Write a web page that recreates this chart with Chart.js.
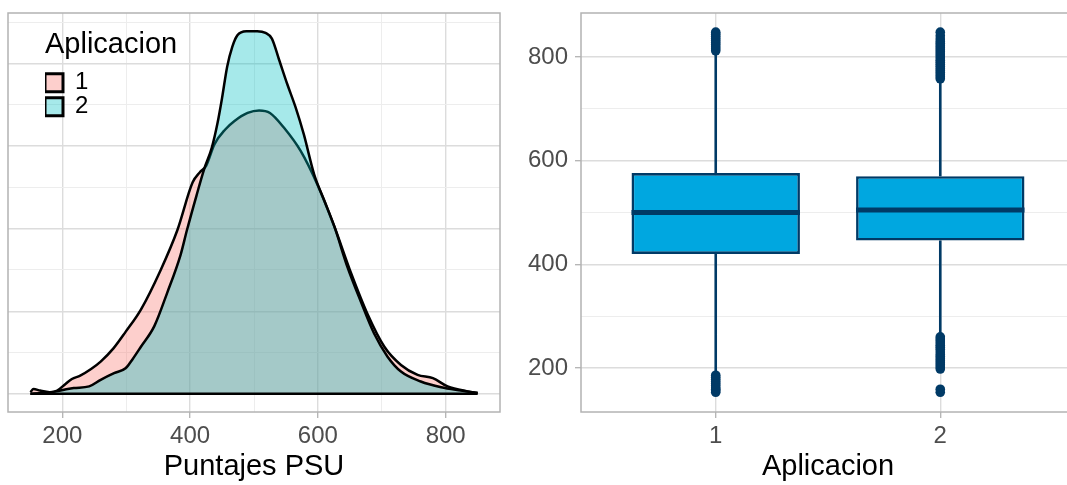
<!DOCTYPE html>
<html><head><meta charset="utf-8">
<script src="https://cdn.jsdelivr.net/npm/chart.js@4"></script>
<style>
html,body{margin:0;padding:0;background:#fff;overflow:hidden;width:1067px;height:485px;}
#left{position:absolute;left:0;top:0;width:520px;height:485px;}
#right{position:absolute;left:520px;top:0;width:560px;height:485px;}
</style></head><body>
<div id="left"><canvas id="c1"></canvas></div>
<div id="right"><canvas id="c2"></canvas></div>
<script>
// ---------- Data: density panel (Puntajes PSU by Aplicacion) ----------
const groupLabels = ['1', '2'];
const psu1  = [150,155,165,180,192,205,215,228,245,260,280,299,323,354,380,404,415,425,438,455,469,490,508,525,547,573,600,626,652,678,704,730,756,780,803,834,850];
const dens1 = [0.00002,0.00006,0.00004,0.00002,0.00004,0.00012,0.00018,0.00022,0.00030,0.00039,0.00055,0.00075,0.00102,0.00150,0.00198,0.00256,0.00268,0.00276,0.00302,0.00320,0.00330,0.00340,0.00343,0.00340,0.00322,0.00294,0.00252,0.00202,0.00146,0.00096,0.00057,0.00035,0.00023,0.00019,0.00009,0.00003,0.00001];
const psu2  = [150,170,190,203,218,242,260,281,299,310,323,344,364,385,395,410,422,434,443,450,458,466,474,488,505,518,528,539,552,565,578,594,610,626,646,667,688,709,730,761,793,824,850];
const dens2 = [0.00000,0.00001,0.00003,0.00005,0.00007,0.00009,0.00017,0.00025,0.00031,0.00042,0.00057,0.00082,0.00122,0.00168,0.00198,0.00240,0.00272,0.00298,0.00328,0.00358,0.00396,0.00420,0.00434,0.00439,0.00439,0.00437,0.00430,0.00405,0.00375,0.00347,0.00314,0.00266,0.00234,0.00202,0.00154,0.00112,0.00073,0.00045,0.00027,0.00015,0.00008,0.00004,0.00001];
const psuTicks = [200,300,400,500,600,700,800];
const psuTickLabels = [200,400,600,800];
const densTicks = [0,0.0005,0.001,0.0015,0.002,0.0025,0.003,0.0035,0.004,0.0045];

// ---------- Data: boxplot panel ----------
const boxCats = [1, 2];
const boxCatLabels = ['1', '2'];
const boxQ1  = [420, 446];
const boxMed = [500, 505];
const boxQ3  = [576, 570];
const whiskLo = [189, 264];
const whiskHi = [807, 752];
const outliers1 = [153,156,159,162,166,170,174,178,182,186, 812,816,820,824,828,832,836,840,844,848];
const outliers2 = [153,159, 198,202,206,210,214,218,222,226,231,236,240,244,248,252,256,260, 758,762,766,770,774,778,782,786,790,794,798,802,806,810,814,818,822,826,830,835,841,848];
const yTicks = [200,300,400,500,600,700,800];
const yTickLabels = [200,400,600,800];
const yLim = [115, 885];

// ---------- styles ----------
Chart.defaults.font.family = "'Liberation Sans', Arial, Helvetica, sans-serif";
Chart.defaults.animation = false;
const GRID_MAJOR = '#DCDCDC', GRID_MINOR = '#EDEDED', BORDER = '#B3B3B3', TICK_TXT = '#4D4D4D';
const NAVY = '#003A66', BOXFILL = '#00A7E0';

const panelBorder = {
  id: 'panelBorder',
  afterDraw(chart) {
    const a = chart.chartArea, ctx = chart.ctx;
    ctx.save();
    ctx.strokeStyle = BORDER; ctx.lineWidth = 1.5;
    ctx.strokeRect(a.left, a.top, a.right - a.left, a.bottom - a.top);
    ctx.restore();
  }
};
const legendPlace = {
  id: 'legendPlace',
  afterLayout(chart, args, opts) {
    const lg = chart.legend; if (!lg) return;
    const w = lg.right - lg.left, h = lg.bottom - lg.top;
    lg.left = opts.x; lg.top = opts.y; lg.right = opts.x + w; lg.bottom = opts.y + h;
  }
};

// ---------- left: densities ----------
const xr = [Math.min(...psu1, ...psu2), Math.max(...psu1, ...psu2)];
const xPad = 0.05 * (xr[1] - xr[0]);
const dMax = Math.max(...dens1, ...dens2);
const isMajX = v => psuTickLabels.includes(v);
const isMajD = v => Math.round(v * 10000) % 10 === 0;

new Chart(document.getElementById('c1'), {
  type: 'line',
  data: {
    datasets: [
      { label: groupLabels[0], data: psu1.map((x, i) => ({x, y: dens1[i]})),
        backgroundColor: 'rgba(248,118,109,0.35)', borderColor: '#000', borderWidth: 2.5,
        fill: 'origin', pointRadius: 0, cubicInterpolationMode: 'monotone', order: 2 },
      { label: groupLabels[1], data: psu2.map((x, i) => ({x, y: dens2[i]})),
        backgroundColor: 'rgba(0,191,196,0.35)', borderColor: '#000', borderWidth: 2.5,
        fill: 'origin', pointRadius: 0, cubicInterpolationMode: 'monotone', order: 1 },
      { label: '_base', data: [{x: xr[0], y: 0}, {x: xr[1], y: 0}],
        borderColor: '#000', borderWidth: 2.5, pointRadius: 0, fill: false, order: 0 }
    ]
  },
  plugins: [panelBorder, legendPlace],
  options: {
    responsive: true, maintainAspectRatio: false, events: [],
    layout: { padding: { left: 8, right: 20, top: 13, bottom: 0 } },
    scales: {
      x: {
        type: 'linear', min: xr[0] - xPad, max: xr[1] + xPad,
        afterBuildTicks: s => { s.ticks = psuTicks.map(v => ({value: v})); },
        afterFit: s => { s.height = 73; s.paddingLeft = 0; s.paddingRight = 0; },
        ticks: { autoSkip: false, maxRotation: 0, padding: 4, color: TICK_TXT, font: {size: 24},
                 callback: v => isMajX(v) ? String(v) : '' },
        grid: { color: c => isMajX(c.tick.value) ? GRID_MAJOR : GRID_MINOR,
                lineWidth: c => isMajX(c.tick.value) ? 1.4 : 1,
                tickLength: 6, tickWidth: 1.3,
                tickColor: c => isMajX(c.tick.value) ? BORDER : 'rgba(0,0,0,0)' },
        border: { display: false },
        title: { display: true, text: 'Puntajes PSU', color: '#000', font: {size: 29}, padding: {top: 0, bottom: 1} }
      },
      y: {
        type: 'linear', min: -0.05 * dMax, max: 1.05 * dMax,
        afterBuildTicks: s => { s.ticks = densTicks.map(v => ({value: v})); },
        afterFit: s => { s.width = 0; s.paddingTop = 0; s.paddingBottom = 0; },
        ticks: { display: false },
        grid: { color: c => isMajD(c.tick.value) ? GRID_MAJOR : GRID_MINOR,
                lineWidth: c => isMajD(c.tick.value) ? 1.4 : 1, drawTicks: false },
        border: { display: false }
      }
    },
    plugins: {
      tooltip: { enabled: false },
      legendPlace: { x: 45, y: 30 },
      legend: {
        position: 'chartArea', align: 'start',
        title: { display: true, text: 'Aplicacion', position: 'start', color: '#000', font: {size: 29}, padding: {top: 0, bottom: 6} },
        labels: {
          boxWidth: 18, boxHeight: 18, padding: 0, color: '#000', font: {size: 24},
          filter: item => item.text !== '_base',
          sort: (a, b) => a.text.localeCompare(b.text),
          generateLabels: chart => Chart.defaults.plugins.legend.labels.generateLabels(chart)
            .map(it => Object.assign(it, {lineWidth: 3, strokeStyle: '#000'}))
        }
      }
    }
  }
});

// ---------- right: boxplots ----------
const halfBox = 0.375;
const medianPts = [], whiskPts = [];
boxCats.forEach((c, i) => {
  medianPts.push({x: c - halfBox, y: boxMed[i]}, {x: c + halfBox, y: boxMed[i]}, {x: c, y: null});
  whiskPts.push({x: c, y: boxQ3[i]}, {x: c, y: whiskHi[i]}, {x: c, y: null},
                {x: c, y: boxQ1[i]}, {x: c, y: whiskLo[i]}, {x: c, y: null});
});
const outPts = outliers1.map(y => ({x: boxCats[0], y})).concat(outliers2.map(y => ({x: boxCats[1], y})));
const isMajY = v => yTickLabels.includes(v);

new Chart(document.getElementById('c2'), {
  type: 'bar',
  data: {
    datasets: [
      { type: 'line', label: 'mediana', data: medianPts, borderColor: NAVY, borderWidth: 5,
        borderCapStyle: 'butt', pointRadius: 0, spanGaps: false, fill: false },
      { type: 'bar', label: 'caja', data: boxCats.map((c, i) => ({x: c, y: [boxQ1[i], boxQ3[i]]})),
        backgroundColor: BOXFILL, borderColor: NAVY, borderWidth: 2.6, borderSkipped: false,
        categoryPercentage: 1, barPercentage: 0.75 },
      { type: 'line', label: 'bigotes', data: whiskPts, borderColor: NAVY, borderWidth: 2.6,
        pointRadius: 0, spanGaps: false, fill: false },
      { type: 'scatter', label: 'atipicos', data: outPts, backgroundColor: NAVY, borderWidth: 0,
        pointRadius: 4.8 }
    ]
  },
  plugins: [panelBorder],
  options: {
    responsive: true, maintainAspectRatio: false, events: [],
    layout: { padding: { left: 0, right: 5, top: 13, bottom: 0 } },
    scales: {
      x: {
        type: 'linear', min: 0.4, max: 2.6, offset: false,
        afterBuildTicks: s => { s.ticks = boxCats.map(v => ({value: v})); },
        afterFit: s => { s.height = 73; s.paddingLeft = 0; s.paddingRight = 0; },
        ticks: { autoSkip: false, maxRotation: 0, padding: 4, color: TICK_TXT, font: {size: 24},
                 callback: v => boxCatLabels[boxCats.indexOf(v)] },
        grid: { offset: false, color: GRID_MAJOR, lineWidth: 1.4, tickLength: 6, tickWidth: 1.3, tickColor: BORDER },
        border: { display: false },
        title: { display: true, text: 'Aplicacion', color: '#000', font: {size: 29}, padding: {top: 0, bottom: 1} }
      },
      y: {
        type: 'linear', min: yLim[0], max: yLim[1],
        afterBuildTicks: s => { s.ticks = yTicks.map(v => ({value: v})); },
        afterFit: s => { s.width = 61; s.paddingTop = 0; s.paddingBottom = 0; },
        ticks: { autoSkip: false, padding: 7, color: TICK_TXT, font: {size: 24},
                 callback: v => isMajY(v) ? String(v) : '' },
        grid: { color: c => isMajY(c.tick.value) ? GRID_MAJOR : GRID_MINOR,
                lineWidth: c => isMajY(c.tick.value) ? 1.4 : 1,
                tickLength: 6, tickWidth: 1.3,
                tickColor: c => isMajY(c.tick.value) ? BORDER : 'rgba(0,0,0,0)' },
        border: { display: false }
      }
    },
    plugins: { legend: { display: false }, tooltip: { enabled: false } }
  }
});
</script>
</body></html>
